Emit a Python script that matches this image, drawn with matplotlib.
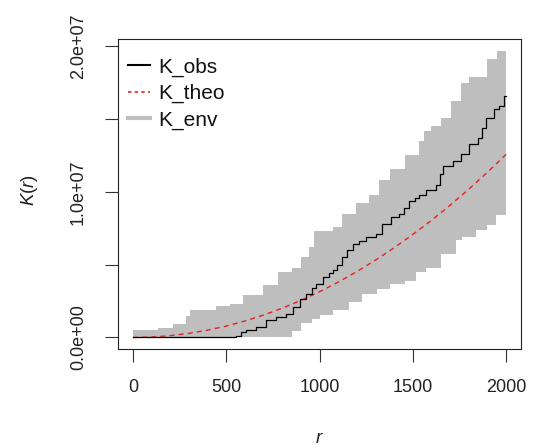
import matplotlib
matplotlib.use("Agg")
import matplotlib.pyplot as plt
from matplotlib.lines import Line2D

plt.rcParams['font.family'] = ['Liberation Sans', 'DejaVu Sans']
plt.rcParams['mathtext.fontset'] = 'custom'
plt.rcParams['mathtext.rm'] = 'Liberation Sans'
plt.rcParams['mathtext.it'] = 'Liberation Sans:italic'

# ---- data (values in units of 1e6) ----
env_r = [0, 135, 216, 282, 305, 447, 519, 588, 697, 776, 850, 900, 946, 960, 973,
         1000, 1070, 1123, 1160, 1195, 1230, 1265, 1310, 1320, 1380, 1460, 1517,
         1535, 1561, 1570, 1597, 1650, 1704, 1730, 1757, 1766, 1802, 1838, 1900,
         1945, 1954, 2000]
env_hi = [0.5, 0.66, 0.96, 1.46, 1.87, 2.14, 2.33, 2.9, 3.58, 4.5, 4.75, 5.52, 6.2,
          6.2, 7.3, 7.3, 7.58, 8.5, 8.5, 9.2, 9.2, 9.75, 9.75, 10.8, 11.6, 12.5,
          12.5, 13.5, 14.2, 14.2, 14.5, 15.1, 16.25, 16.25, 17.5, 17.5, 17.85,
          17.85, 19.1, 19.1, 19.7, 19.7]
env_lo = [0, 0, 0, 0, 0, 0, 0, 0, 0, 0, 0.45, 1.0, 1.0, 1.3, 1.3, 1.53, 1.87, 1.87,
          2.44, 2.44, 3.0, 3.0, 3.36, 3.36, 3.7, 3.9, 4.5, 4.5, 4.5, 4.8, 4.8,
          5.75, 5.75, 6.66, 6.66, 6.9, 6.9, 7.35, 7.7, 8.4, 8.4, 8.4]

obs_r = [0, 555, 580, 607, 660, 714, 768, 821, 857, 893, 929, 960, 982, 1020, 1053,
         1070, 1095, 1123, 1150, 1177, 1210, 1248, 1301, 1337, 1381, 1426, 1455,
         1480, 1510, 1535, 1570, 1624, 1645, 1660, 1713, 1757, 1802, 1847, 1870,
         1891, 1936, 1963, 1990, 2000]
obs_k = [0, 0.1, 0.38, 0.5, 0.73, 1.18, 1.41, 1.64, 2.1, 2.67, 3.0, 3.4, 3.7, 4.15,
         4.4, 4.6, 5.0, 5.5, 6.0, 6.4, 6.6, 6.9, 7.1, 7.8, 8.26, 8.5, 8.9, 9.4, 9.6,
         9.75, 10.1, 10.5, 11.2, 11.8, 12.1, 12.6, 13.3, 13.7, 14.4, 15.1, 15.7,
         15.9, 16.6, 16.6]

theo_r = [0, 100, 200, 300, 400, 500, 600, 700, 800, 900, 1000, 1100, 1200, 1300,
          1400, 1500, 1600, 1700, 1800, 1900, 2000]
theo_k = [0, 0.031, 0.126, 0.283, 0.503, 0.785, 1.13, 1.54, 2.01, 2.54, 3.14, 3.80,
          4.52, 5.31, 6.16, 7.07, 8.04, 9.08, 10.18, 11.34, 12.57]

xticks = [0, 500, 1000, 1500, 2000]
yticks = [0, 5, 10, 15, 20]
ytick_labels = ['0.0e+00', '', '1.0e+07', '', '2.0e+07']
legend_labels = ['K_obs', 'K_theo', 'K_env']

GREY = '#BEBEBE'
FS = 13
LFS = 15

fig = plt.figure(figsize=(5.33, 4.48), dpi=100)
L, R, T, B = 118, 521, 39, 349
ax = fig.add_axes([L / 533, 1 - B / 448, (R - L) / 533, (B - T) / 448])

sc = 1e6
ax.fill_between(env_r, [v * sc for v in env_lo], [v * sc for v in env_hi],
                step='post', color=GREY, linewidth=0)
ax.plot(theo_r, [v * sc for v in theo_k], color='#E82020', lw=1.0, dashes=(3.6, 3.0))
ax.plot(obs_r, [v * sc for v in obs_k], color='black', lw=0.9, drawstyle='steps-post')

ax.set_xlim(-80, 2080)
ax.set_ylim(-0.79e6, 20.49e6)
ax.set_xticks(xticks)
ax.set_xticklabels([str(v) for v in xticks], fontsize=FS)
ax.set_yticks([v * sc for v in yticks])
ax.set_yticklabels(ytick_labels, fontsize=FS, rotation=90, va='center')
ax.tick_params(direction='out', length=9.4, width=0.8, color='#333333',
               labelcolor='#222222')
ax.tick_params(axis='x', pad=12)
ax.tick_params(axis='y', pad=13)
for s in ax.spines.values():
    s.set_linewidth(0.8)
    s.set_color('#222222')

fig.text(30 / 533, 1 - 190 / 448, '$K(r)$', rotation=90, ha='center', va='center',
         fontsize=FS + 0.5, color='#222222')
fig.text(319.5 / 533, 1 - 443 / 448, '$r$', ha='center', va='baseline',
         fontsize=FS + 0.5, color='#222222')

handles = [Line2D([], [], color='black', lw=1.5),
           Line2D([], [], color='#E82020', lw=1.2, dashes=(2, 2)),
           Line2D([], [], color=GREY, lw=3)]
ax.legend(handles, legend_labels, loc='upper left', bbox_to_anchor=(0.025, 0.940),
          frameon=False, fontsize=LFS, handlelength=1.06, handletextpad=0.38,
          labelspacing=0.34, borderpad=0, borderaxespad=0, labelcolor='#111111')

fig.savefig('out.png', dpi=100)
